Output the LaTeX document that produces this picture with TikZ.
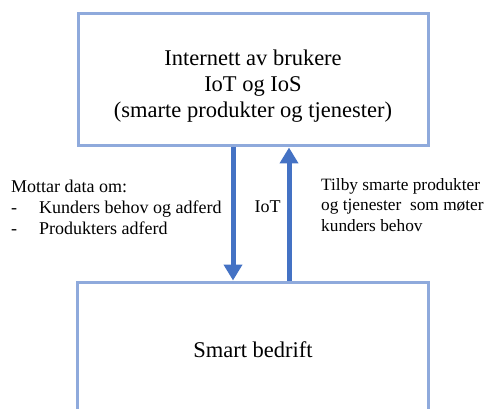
\documentclass[tikz,border=0pt]{standalone}
\usepackage{fontspec}
\setmainfont{Liberation Serif}
\usetikzlibrary{arrows.meta}
\definecolor{boxblue}{HTML}{8FAADC}
\definecolor{arrblue}{HTML}{4472C4}
\begin{document}
\begin{tikzpicture}[x=1pt,y=-1pt,
  box/.style={draw=boxblue,line width=3pt,fill=white,inner sep=0pt,align=center,
    font=\fontsize{22.5}{26}\selectfont},
  arr/.style={draw=arrblue,line width=5pt,-{Triangle[width=18pt,length=16pt]}},
  side/.style={align=left,inner sep=0pt,font=\fontsize{18}{21}\selectfont}]
\useasboundingbox (0,0) rectangle (490,409);
\clip (0,0) rectangle (490,409);
\fill[white] (0,0) rectangle (490,409);
\node[box,minimum width=350pt,minimum height=132pt] (top) at (253,80) {};
\node[font=\fontsize{22.5}{26}\selectfont,align=center,inner sep=0pt] (toptext) at (253,86)
  {Internett av brukere\\IoT og IoS\\(smarte produkter og tjenester)};
\node[box,minimum width=351pt,minimum height=140pt] (bot) at (252.5,352) {};
\node[font=\fontsize{22.5}{26}\selectfont,inner sep=0pt] (bottext) at (253,350) {Smart bedrift};
\coordinate (d) at (233,0);
\coordinate (u) at (289,0);
\draw[arr] (top.south -| d) -- (bot.north -| d);
\draw[arr] (bot.north -| u) -- (top.south -| u);
\node[side,anchor=west] (left) at (11,207)
  {Mottar data om:\\\makebox[28pt][l]{-}Kunders behov og adferd\\\makebox[28pt][l]{-}Produkters adferd};
\node[side,anchor=west,font=\fontsize{17.3}{20.5}\selectfont] (right) at (321,205)
  {Tilby smarte produkter\\og tjenester\ \ som møter\\kunders behov};
\node[inner sep=0pt,font=\fontsize{18}{21}\selectfont] (iot) at (267.5,207) {IoT};
\end{tikzpicture}
\end{document}
